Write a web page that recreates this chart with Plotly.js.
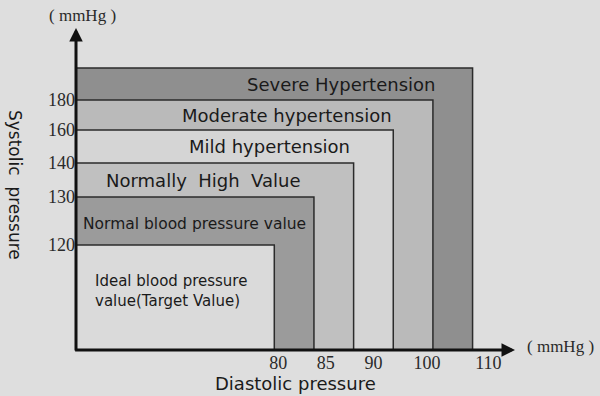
<!DOCTYPE html>
<html>
<head>
<meta charset="utf-8">
<script src="https://cdn.plot.ly/plotly-3.0.1.min.js"></script>
<style>html,body{margin:0;padding:0;background:#dedede;}#chart{width:600px;height:396px;}</style>
</head>
<body>
<div id="chart"></div>
<script>
// Bands, from outermost to innermost
const categories = ['Severe Hypertension', 'Moderate hypertension', 'Mild hypertension',
  'Normally\u00a0\u00a0High\u00a0\u00a0Value', 'Normal blood pressure value',
  'Ideal blood pressure<br>value(Target Value)'];
// right edge of each band, in steps of the printed diastolic scale
const diastolicEdge = [10, 9, 8, 7, 6, 5];
// top edge of each band, in units of the printed systolic scale
const systolicEdge = [282, 250, 220, 187, 153, 105];
const bandColors = ['#8f8f8f', '#bababa', '#d5d5d5', '#c0c0c0', '#9b9b9b', '#dadada'];

const systolicTicks = ['120', '130', '140', '160', '180'];
const systolicTickPos = [105, 153, 187, 220, 250];
const diastolicTicks = ['80', '85', '90', '100', '110'];
const diastolicTickPos = [5.1, 6.3, 7.5, 8.85, 10.4];

// label placement (style, not data)
const labelX = [6.68, 5.33, 4.87, 3.2, 3.0, 0.43];
const labelSize = [18, 18, 18, 18, 15.5, 15];

const bars = {
  type: 'bar',
  x: diastolicEdge.map(w => w / 2),
  width: diastolicEdge,
  y: systolicEdge,
  base: 0,
  marker: {color: bandColors, line: {color: '#2b2b2b', width: 1.5}},
  hoverinfo: 'skip'
};

const ann = categories.map((c, i) => {
  const top = systolicEdge[i];
  const below = i + 1 < systolicEdge.length ? systolicEdge[i + 1] : 0;
  const isIdeal = i === categories.length - 1;
  return {
    x: labelX[i], y: isIdeal ? 59 : (top + below) / 2 + (i === 4 ? -3 : 0),
    xref: 'x', yref: 'y', text: c, showarrow: false,
    xanchor: isIdeal ? 'left' : 'center', yanchor: 'middle', align: 'left',
    font: {family: 'DejaVu Sans', size: labelSize[i], color: '#1a1a1a'}
  };
});

// axis arrows
ann.push({x: 0, y: 322, ax: 0, ay: -2, axref: 'x', ayref: 'y', xref: 'x', yref: 'y',
  text: '', showarrow: true, arrowhead: 2, arrowsize: 0.9, arrowwidth: 3, arrowcolor: '#111', standoff: 0});
ann.push({x: 11.07, y: 0, ax: -0.06, ay: 0, axref: 'x', ayref: 'y', xref: 'x', yref: 'y',
  text: '', showarrow: true, arrowhead: 2, arrowsize: 0.9, arrowwidth: 3, arrowcolor: '#111', standoff: 0});

// units and titles (pixel positions converted to paper coordinates)
const px = v => (v - 76) / 464;
const py = v => (350 - v) / 330;
const txt = (x, y, text, font, extra) => Object.assign({xref: 'paper', yref: 'paper', x: px(x), y: py(y),
  text: text, showarrow: false, xanchor: 'center', yanchor: 'middle', font: font}, extra || {});
const unitText = '(\u00a0mmHg\u00a0)';
ann.push(txt(82, 16, unitText, {family: 'Liberation Serif', size: 17, color: '#2a2a2a'}));
ann.push(txt(560, 346, unitText, {family: 'Liberation Serif', size: 17, color: '#2a2a2a'}));
ann.push(txt(295, 383, 'Diastolic pressure', {family: 'DejaVu Sans', size: 18, color: '#1a1a1a'}));
ann.push(txt(15, 185, 'Systolic\u00a0\u00a0pressure', {family: 'DejaVu Sans', size: 17, color: '#1a1a1a'}, {textangle: 90}));

const layout = {
  width: 600, height: 396,
  margin: {l: 76, r: 60, t: 20, b: 46},
  paper_bgcolor: '#dedede', plot_bgcolor: 'rgba(0,0,0,0)',
  barmode: 'overlay', showlegend: false, hovermode: false,
  xaxis: {range: [0, 11.7], showgrid: false, zeroline: false, showline: false, ticks: '',
    tickvals: diastolicTickPos, ticktext: diastolicTicks, tickangle: 0,
    tickfont: {family: 'Liberation Serif', size: 18, color: '#2a2a2a'}},
  yaxis: {range: [0, 330], showgrid: false, zeroline: false, showline: false, ticks: '',
    tickvals: systolicTickPos, ticktext: systolicTicks,
    tickfont: {family: 'Liberation Serif', size: 18, color: '#2a2a2a'}},
  annotations: ann
};

Plotly.newPlot('chart', [bars], layout, {staticPlot: true, displayModeBar: false});
</script>
</body>
</html>
